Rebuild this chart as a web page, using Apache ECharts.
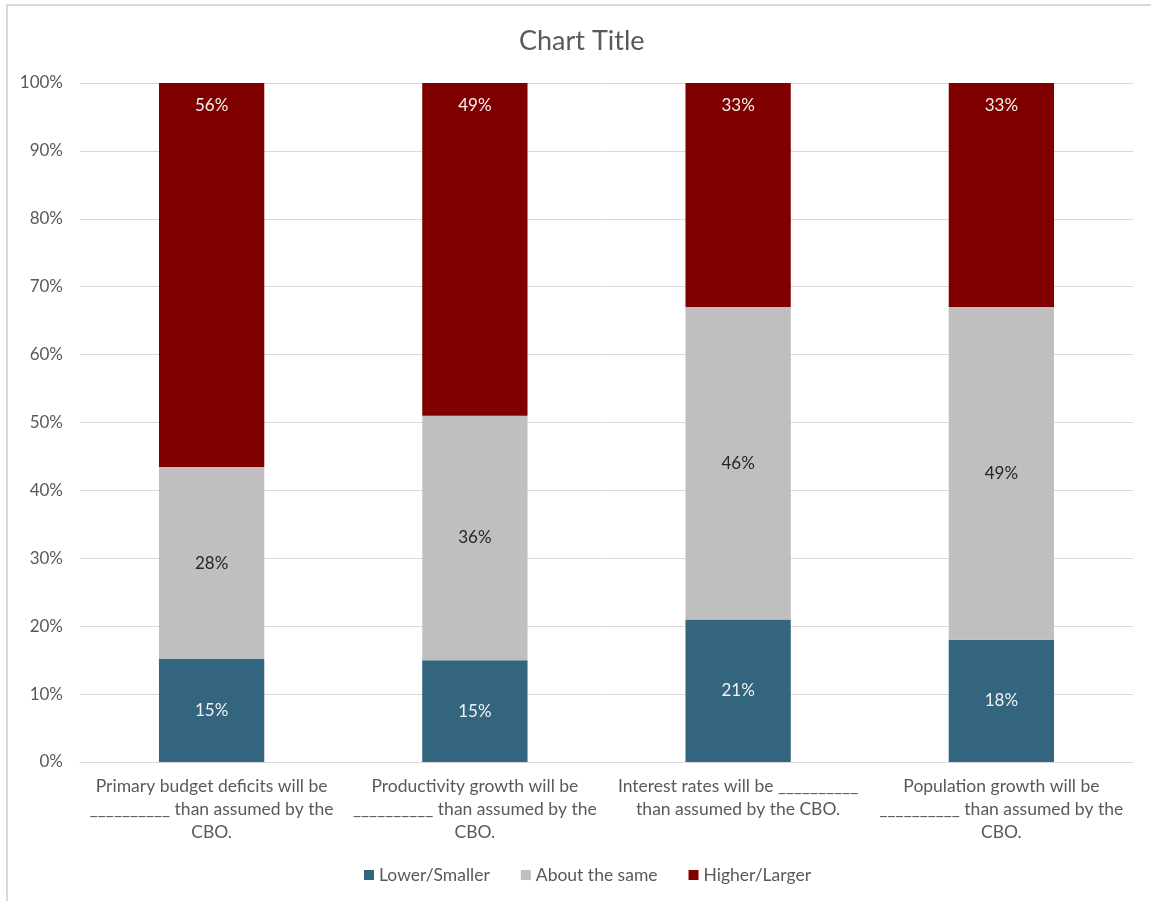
<!DOCTYPE html>
<html>
<head>
<meta charset="utf-8">
<title>Chart Title</title>
<script src="https://cdn.jsdelivr.net/npm/echarts@6/dist/echarts.min.js"></script>
<style>
  html, body { margin: 0; padding: 0; background: #ffffff; }
  #chart { width: 1151px; height: 901px; }
</style>
</head>
<body>
<div id="chart"></div>
<script>
// Survey questions (x-axis categories, broken into lines as displayed)
const categories = [
  'Primary budget deficits will be\n__________ than assumed by the\nCBO.',
  'Productivity growth will be\n__________ than assumed by the\nCBO.',
  'Interest rates will be __________\nthan assumed by the CBO.',
  'Population growth will be\n__________ than assumed by the\nCBO.'
];

// Share of responses per answer (percent)
const lowerSmaller = [15, 15, 21, 18];
const aboutSame    = [28, 36, 46, 49];
const higherLarger = [56, 49, 33, 33];

const seriesNames = ['Lower/Smaller', 'About the same', 'Higher/Larger'];
const yTicks = [0, 10, 20, 30, 40, 50, 60, 70, 80, 90, 100];

const FONT = 'Lato, "Noto Sans", sans-serif';
const TEXT = '#595959';

// 100% stacked: each column is scaled so its answers fill the full height
const totals = categories.map((_, i) => lowerSmaller[i] + aboutSame[i] + higherLarger[i]);
function toShare(arr) {
  return arr.map((v, i) => ({ value: v / totals[i] * 100, raw: v }));
}

const labelFmt = p => p.data.raw + '%';

function barSeries(name, arr, color, labelColor, position, distance) {
  return {
    name: name,
    type: 'bar',
    stack: 'total',
    barWidth: '40%',
    data: toShare(arr),
    itemStyle: { color: color },
    emphasis: { disabled: true },
    label: {
      show: true,
      position: position,
      distance: distance,
      formatter: labelFmt,
      color: labelColor,
      fontFamily: FONT,
      fontSize: 17
    }
  };
}

const chart = echarts.init(document.getElementById('chart'), null, { renderer: 'canvas' });

chart.setOption({
  backgroundColor: '#ffffff',
  animation: false,
  title: {
    text: 'Chart Title',
    left: 514,
    top: 23,
    textStyle: { fontFamily: FONT, fontSize: 27, fontWeight: 'normal', color: TEXT }
  },
  legend: {
    data: seriesNames,
    left: 359,
    top: 861,
    icon: 'rect',
    itemWidth: 10,
    itemHeight: 10,
    itemGap: 31,
    textStyle: { fontFamily: FONT, fontSize: 17.5, color: TEXT }
  },
  grid: { left: 80, right: 18, top: 83, bottom: 139, containLabel: false },
  xAxis: {
    type: 'category',
    data: categories,
    axisLine: { show: true, lineStyle: { color: '#d9d9d9', width: 1 } },
    axisTick: { show: false },
    axisLabel: {
      interval: 0,
      margin: 13,
      fontFamily: FONT,
      fontSize: 17.5,
      lineHeight: 23,
      color: TEXT,
      align: 'center'
    }
  },
  yAxis: {
    type: 'value',
    min: 0,
    max: 100,
    interval: 10,
    axisLine: { show: false },
    axisTick: { show: false },
    splitLine: { lineStyle: { color: '#d9d9d9', width: 1 } },
    axisLabel: {
      margin: 17,
      fontFamily: FONT,
      fontSize: 17,
      color: TEXT,
      formatter: v => (yTicks.includes(v) ? v + '%' : '')
    }
  },
  series: [
    barSeries(seriesNames[0], lowerSmaller, '#33657f', '#f2f2f2', 'inside', 5),
    barSeries(seriesNames[1], aboutSame, '#bfbfbf', '#262626', 'inside', 5),
    barSeries(seriesNames[2], higherLarger, '#800000', '#f2f2f2', 'insideTop', 14)
  ],
  graphic: [{
    type: 'rect',
    silent: true,
    z: -1,
    shape: { x: 7, y: 5, width: 1200, height: 1000 },
    style: { fill: null, stroke: '#d9d9d9', lineWidth: 2 }
  }]
});
</script>
</body>
</html>
